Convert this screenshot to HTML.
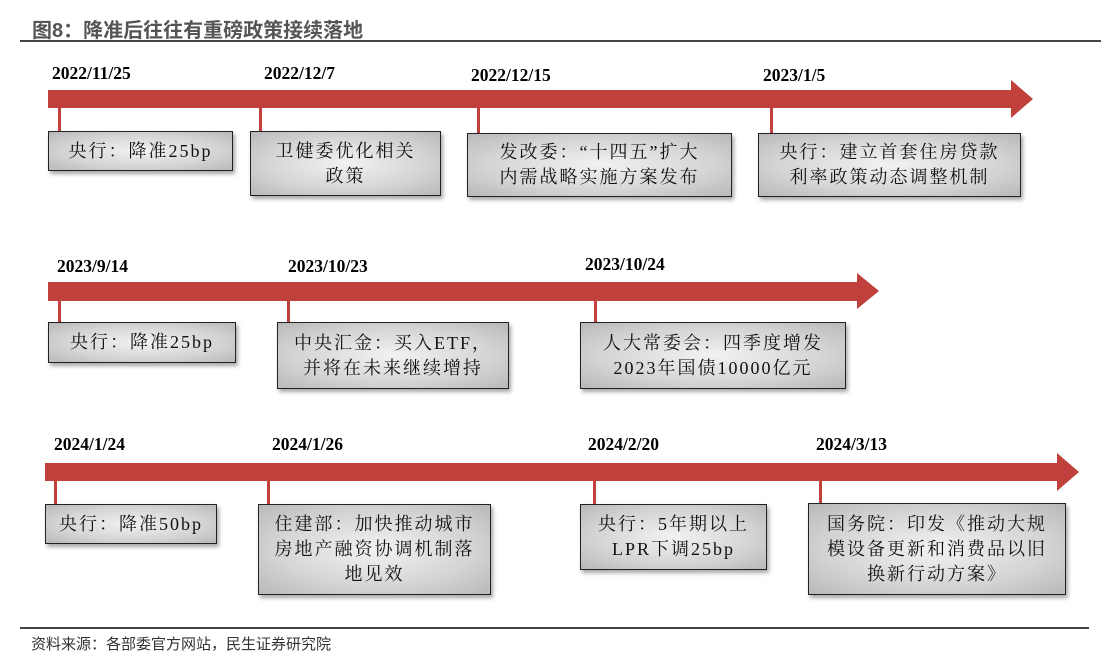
<!DOCTYPE html>
<html><head><meta charset="utf-8"><style>
body{margin:0;width:1115px;height:666px;background:#fff;position:relative;overflow:hidden;font-family:"Liberation Serif","Noto Serif CJK SC",serif}
.t{position:absolute;left:32px;top:14px;font:bold 20px "Liberation Sans","Noto Sans CJK SC",sans-serif;color:#555}
.hl{position:absolute;left:20px;width:1081px;height:2px;background:#444}
.d{position:absolute;font-weight:bold;font-size:17.5px;color:#000;margin-top:-3px}
.bar{position:absolute;height:18px;background:#c0403c}
.hd{position:absolute;width:0;height:0;border-left:22px solid #c0403c;border-top:19px solid transparent;border-bottom:19px solid transparent}
.tk{position:absolute;width:3px;background:#c0403c}
.b{position:absolute;box-sizing:border-box;border:1.5px solid #222;background:radial-gradient(ellipse at center,#f2f2f2 0%,#d4d4d4 60%,#b8b8b8 100%);box-shadow:2px 3px 4px rgba(0,0,0,.35);display:flex;align-items:center;justify-content:center;text-align:center;font-size:18px;line-height:25px;color:#111;letter-spacing:2px}
.f{position:absolute;left:31px;top:633px;font:15px "Liberation Sans","Noto Sans CJK SC",sans-serif;color:#333}
</style></head><body>
<div class="t">图8：降准后往往有重磅政策接续落地</div>
<div class="hl" style="top:40px"></div>

<div class="d" style="left:52px;top:66px">2022/11/25</div>
<div class="d" style="left:264px;top:66px">2022/12/7</div>
<div class="d" style="left:471px;top:68px">2022/12/15</div>
<div class="d" style="left:763px;top:68px">2023/1/5</div>
<div class="bar" style="left:48px;top:90px;width:964px"></div>
<div class="hd" style="left:1011px;top:80px"></div>
<div class="tk" style="left:58px;top:106px;height:26px"></div>
<div class="tk" style="left:259px;top:106px;height:26px"></div>
<div class="tk" style="left:477px;top:106px;height:28px"></div>
<div class="tk" style="left:770px;top:106px;height:28px"></div>
<div class="b" style="left:48px;top:131px;width:185px;height:40px">央行：降准25bp</div>
<div class="b" style="left:250px;top:131px;width:191px;height:65px">卫健委优化相关<br>政策</div>
<div class="b" style="left:467px;top:133px;width:265px;height:64px">发改委：“十四五”扩大<br>内需战略实施方案发布</div>
<div class="b" style="left:758px;top:133px;width:263px;height:64px">央行：建立首套住房贷款<br>利率政策动态调整机制</div>

<div class="d" style="left:57px;top:259px">2023/9/14</div>
<div class="d" style="left:288px;top:259px">2023/10/23</div>
<div class="d" style="left:585px;top:257px">2023/10/24</div>
<div class="bar" style="left:48px;top:282px;width:810px;height:19px"></div>
<div class="hd" style="left:857px;top:273px;border-top-width:18.5px;border-bottom-width:18.5px"></div>
<div class="tk" style="left:58px;top:299px;height:24px"></div>
<div class="tk" style="left:287px;top:299px;height:24px"></div>
<div class="tk" style="left:594px;top:299px;height:24px"></div>
<div class="b" style="left:48px;top:322px;width:188px;height:41px">央行：降准25bp</div>
<div class="b" style="left:277px;top:322px;width:232px;height:67px">中央汇金：买入ETF，<br>并将在未来继续增持</div>
<div class="b" style="left:580px;top:322px;width:266px;height:67px">人大常委会：四季度增发<br>2023年国债10000亿元</div>

<div class="d" style="left:54px;top:437px">2024/1/24</div>
<div class="d" style="left:272px;top:437px">2024/1/26</div>
<div class="d" style="left:588px;top:437px">2024/2/20</div>
<div class="d" style="left:816px;top:437px">2024/3/13</div>
<div class="bar" style="left:45px;top:463px;width:1013px"></div>
<div class="hd" style="left:1057px;top:453px"></div>
<div class="tk" style="left:54px;top:479px;height:26px"></div>
<div class="tk" style="left:267px;top:479px;height:26px"></div>
<div class="tk" style="left:593px;top:479px;height:26px"></div>
<div class="tk" style="left:819px;top:479px;height:25px"></div>
<div class="b" style="left:45px;top:504px;width:172px;height:40px">央行：降准50bp</div>
<div class="b" style="left:258px;top:504px;width:233px;height:91px">住建部：加快推动城市<br>房地产融资协调机制落<br>地见效</div>
<div class="b" style="left:580px;top:504px;width:187px;height:66px">央行：5年期以上<br>LPR下调25bp</div>
<div class="b" style="left:808px;top:503px;width:258px;height:92px">国务院：印发《推动大规<br>模设备更新和消费品以旧<br>换新行动方案》</div>

<div class="hl" style="top:627px;width:1069px"></div>
<div class="f">资料来源：各部委官方网站，民生证券研究院</div>
</body></html>
